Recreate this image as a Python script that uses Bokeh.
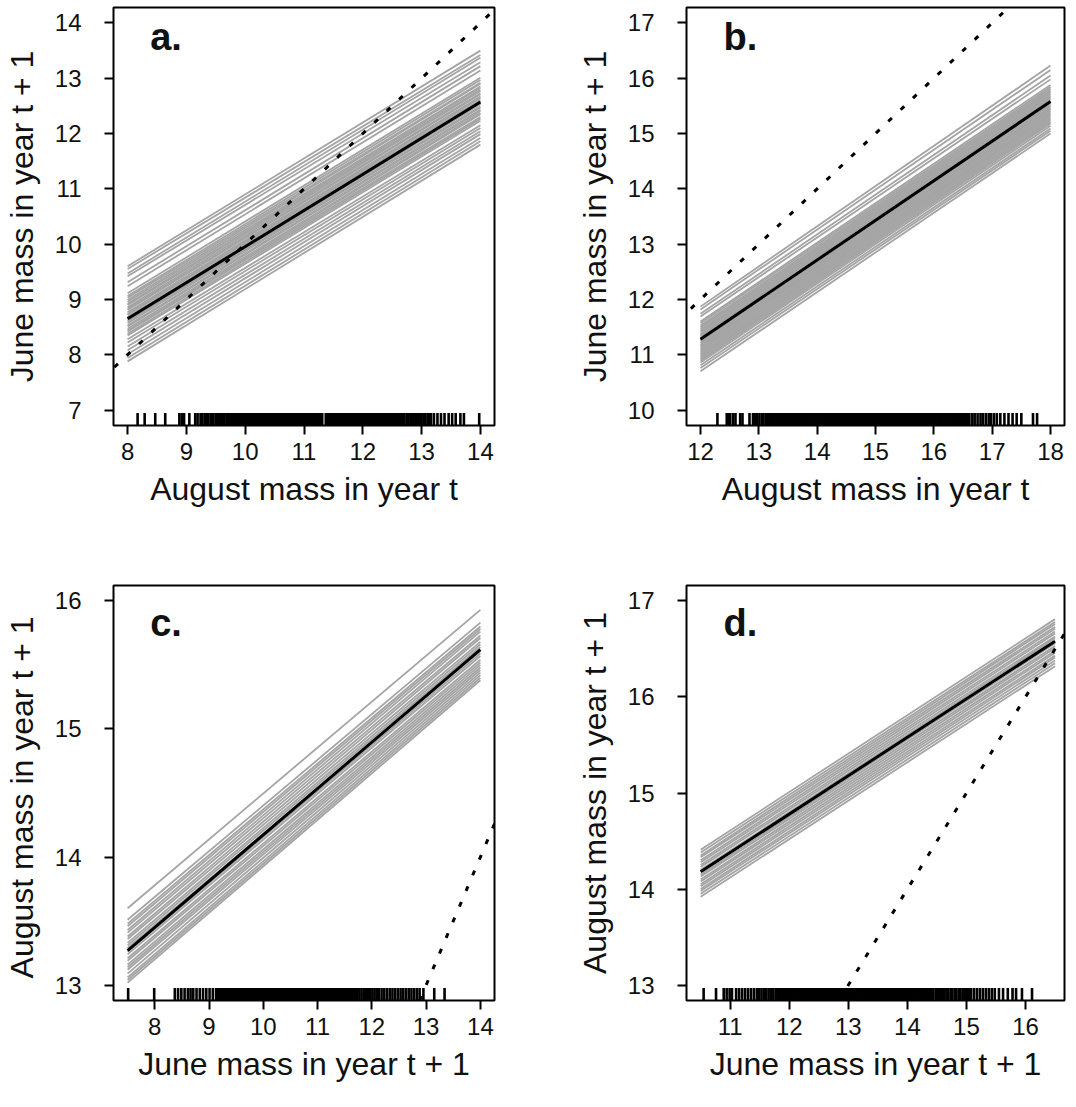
from bokeh.plotting import figure
from bokeh.models import Range1d, Slope, Label, FixedTicker
from bokeh.layouts import gridplot
from bokeh.embed import file_html
from bokeh.resources import INLINE

# ---------------- data ----------------
panel_letters = ["a.", "b.", "c.", "d."]
x_titles = ["August mass in year t", "August mass in year t",
            "June mass in year t + 1", "June mass in year t + 1"]
y_titles = ["June mass in year t + 1", "June mass in year t + 1",
            "August mass  in year t + 1", "August mass in year t + 1"]

x_ticks_a = [8, 9, 10, 11, 12, 13, 14]
y_ticks_a = [7, 8, 9, 10, 11, 12, 13, 14]
x_ticks_b = [12, 13, 14, 15, 16, 17, 18]
y_ticks_b = [10, 11, 12, 13, 14, 15, 16, 17]
x_ticks_c = [8, 9, 10, 11, 12, 13, 14]
y_ticks_c = [13, 14, 15, 16]
x_ticks_d = [11, 12, 13, 14, 15, 16]
y_ticks_d = [13, 14, 15, 16, 17]

# data extents (x and y) of each panel
x_extent_a = [8, 14];    y_extent_a = [7, 14]
x_extent_b = [12, 18];   y_extent_b = [10, 17]
x_extent_c = [7.5, 14];  y_extent_c = [13, 16]
x_extent_d = [10.5, 16.5]; y_extent_d = [13, 17]

# mean fitted line (value at left end, value at right end)
mean_a = [8.65, 12.57]
mean_b = [11.28, 15.58]
mean_c = [13.27, 15.62]
mean_d = [14.18, 16.58]

# posterior sample lines: value at left end / right end
gray_a_left = [9.60, 9.55, 9.47, 9.42, 9.31, 9.24, 9.11, 9.06, 9.03, 8.99, 8.96, 8.92,
               8.90, 8.86, 8.83, 8.81, 8.77, 8.74, 8.72, 8.68, 8.66, 8.62, 8.60, 8.57,
               8.53, 8.51, 8.47, 8.44, 8.42, 8.38, 8.35, 8.28, 8.22, 8.15, 8.08, 8.01,
               7.94, 7.88]
gray_a_right = [13.50, 13.42, 13.37, 13.29, 13.22, 13.14, 13.01, 12.97, 12.92, 12.90,
                12.85, 12.83, 12.79, 12.77, 12.73, 12.71, 12.67, 12.65, 12.61, 12.59,
                12.55, 12.53, 12.49, 12.47, 12.43, 12.41, 12.37, 12.35, 12.30, 12.27,
                12.23, 12.15, 12.10, 12.04, 11.99, 11.92, 11.86, 11.80]

gray_b_left = [11.87, 11.82, 11.74, 11.69, 11.60, 11.57, 11.53, 11.50, 11.47, 11.44,
               11.41, 11.38, 11.35, 11.33, 11.30, 11.27, 11.24, 11.21, 11.18, 11.16,
               11.13, 11.10, 11.07, 11.04, 11.01, 10.98, 10.95, 10.92, 10.89, 10.86,
               10.81, 10.76, 10.70]
gray_b_right = [16.23, 16.15, 16.05, 15.98, 15.88, 15.84, 15.81, 15.78, 15.75, 15.72,
                15.69, 15.66, 15.63, 15.60, 15.58, 15.55, 15.52, 15.49, 15.46, 15.44,
                15.41, 15.38, 15.35, 15.33, 15.30, 15.27, 15.24, 15.21, 15.18, 15.14,
                15.09, 15.05, 15.00]

gray_c_left = [13.60, 13.51, 13.48, 13.46, 13.43, 13.41, 13.38, 13.36, 13.33, 13.31,
               13.29, 13.26, 13.24, 13.21, 13.19, 13.16, 13.14, 13.12, 13.09, 13.06,
               13.04, 13.02]
gray_c_right = [15.93, 15.83, 15.80, 15.78, 15.76, 15.73, 15.71, 15.68, 15.66, 15.64,
                15.61, 15.59, 15.57, 15.54, 15.52, 15.50, 15.48, 15.46, 15.44, 15.42,
                15.40, 15.38]

gray_d_left = [14.41, 14.38, 14.35, 14.33, 14.30, 14.28, 14.25, 14.23, 14.20, 14.18,
               14.15, 14.13, 14.10, 14.08, 14.05, 14.03, 14.00, 13.98, 13.95, 13.92]
gray_d_right = [16.81, 16.78, 16.76, 16.73, 16.71, 16.68, 16.66, 16.63, 16.61, 16.58,
                16.56, 16.53, 16.51, 16.48, 16.46, 16.43, 16.41, 16.38, 16.35, 16.32]

# observed covariate values (rug)
rug_a = [8.17, 8.29, 8.47, 8.64, 8.88, 8.92, 8.96, 9.05, 9.15, 9.19, 9.24, 9.27,
         9.31, 9.34, 9.37, 9.41, 9.44, 9.46, 9.50, 9.53, 9.55, 9.59, 9.62, 9.64, 9.68, 9.71,
         9.74, 9.76, 9.79, 9.81, 9.84, 9.86, 9.89, 9.91, 9.94, 9.96, 9.99, 10.01, 10.03,
         10.06, 10.08, 10.11, 10.13, 10.16, 10.18, 10.21, 10.23, 10.26, 10.28, 10.31, 10.33,
         10.35, 10.37, 10.39, 10.42, 10.44, 10.46, 10.49, 10.51, 10.53, 10.56, 10.58, 10.60,
         10.63, 10.65, 10.67, 10.70, 10.72, 10.74, 10.77, 10.79, 10.81, 10.84, 10.86, 10.88,
         10.91, 10.93, 10.95, 10.98, 11.00, 11.02, 11.05, 11.07, 11.09, 11.12, 11.14, 11.16,
         11.19, 11.21, 11.23, 11.26, 11.28, 11.31,
         11.37, 11.39, 11.42, 11.44, 11.46, 11.49, 11.51, 11.53, 11.56, 11.58, 11.60, 11.63,
         11.65, 11.67, 11.70, 11.72, 11.74, 11.77, 11.79, 11.81, 11.84, 11.86, 11.88, 11.91,
         11.93, 11.95, 11.98, 12.00, 12.02, 12.05, 12.07, 12.09, 12.12, 12.14, 12.16, 12.19,
         12.21, 12.23, 12.26, 12.28, 12.30, 12.33, 12.35, 12.37, 12.40, 12.42, 12.44, 12.47,
         12.49, 12.51, 12.54, 12.56, 12.58, 12.61, 12.63, 12.65,
         12.68, 12.71, 12.75, 12.78, 12.82, 12.85, 12.89, 12.92, 12.96, 12.99, 13.03, 13.06,
         13.10, 13.13, 13.16,
         13.21, 13.27, 13.33, 13.39, 13.46, 13.52, 13.58, 13.66, 13.72, 13.98]

rug_b = [12.29, 12.45, 12.48, 12.51, 12.56, 12.60, 12.68, 12.72, 12.84, 12.90, 12.93, 12.97,
         13.01, 13.05, 13.08, 13.12,
         13.15, 13.18, 13.21, 13.24, 13.27, 13.30, 13.33, 13.36, 13.39, 13.42, 13.45, 13.48,
         13.51, 13.54, 13.57, 13.60, 13.63,
         13.66, 13.68, 13.71, 13.73, 13.75, 13.78, 13.80, 13.83, 13.85, 13.87, 13.90, 13.92,
         13.94, 13.97, 13.99, 14.02, 14.04, 14.06, 14.09, 14.11, 14.13, 14.16, 14.18, 14.21,
         14.23, 14.25, 14.28, 14.30, 14.32, 14.35, 14.37, 14.40, 14.42, 14.44, 14.47, 14.49,
         14.51, 14.54, 14.56, 14.59, 14.61, 14.63, 14.66, 14.68, 14.70, 14.73, 14.75, 14.78,
         14.80, 14.82, 14.85, 14.87, 14.89, 14.92, 14.94, 14.97, 14.99, 15.01, 15.04, 15.06,
         15.08, 15.11, 15.13, 15.16, 15.18, 15.20, 15.23, 15.25, 15.27, 15.30, 15.32, 15.35,
         15.37, 15.39, 15.42, 15.44, 15.46, 15.49, 15.51, 15.54, 15.56, 15.58, 15.61, 15.63,
         15.65, 15.68, 15.70, 15.73, 15.75, 15.77, 15.80, 15.82, 15.84, 15.87, 15.89, 15.92,
         15.94, 15.96, 15.99, 16.01, 16.03, 16.06, 16.08, 16.11, 16.13, 16.15, 16.18, 16.20,
         16.22, 16.25, 16.27, 16.30,
         16.33, 16.36, 16.39, 16.42, 16.45, 16.48, 16.52, 16.55, 16.58, 16.61,
         16.66, 16.70, 16.75, 16.80, 16.84, 16.89, 16.94, 16.98, 17.03, 17.08,
         17.14, 17.21, 17.28, 17.35, 17.42, 17.50, 17.70, 17.77]

rug_c = [7.51, 7.99, 8.37, 8.43, 8.49, 8.55, 8.61, 8.66, 8.71, 8.77, 8.83, 8.89, 8.95, 9.01,
         9.07, 9.13, 9.16, 9.19, 9.22, 9.25, 9.28, 9.31, 9.34, 9.37, 9.40, 9.43, 9.46, 9.49,
         9.52, 9.55, 9.58, 9.61, 9.64, 9.67, 9.70, 9.73, 9.76, 9.79, 9.82, 9.85, 9.88, 9.91,
         9.94, 9.97, 10.00, 10.03, 10.06, 10.09, 10.12, 10.15, 10.18, 10.21, 10.24, 10.27,
         10.30, 10.33, 10.36, 10.39, 10.42, 10.45, 10.48, 10.51, 10.54, 10.57, 10.60, 10.63,
         10.66, 10.69, 10.72, 10.75, 10.78, 10.81, 10.84, 10.87, 10.90, 10.93, 10.96, 10.99,
         11.02, 11.05, 11.08, 11.11, 11.14, 11.17, 11.20, 11.23, 11.26, 11.29, 11.32, 11.35,
         11.38, 11.41, 11.44, 11.47, 11.50, 11.53, 11.56, 11.59, 11.62, 11.65,
         11.69, 11.73, 11.77, 11.81, 11.85, 11.89, 11.93, 11.97, 12.01, 12.05, 12.09, 12.13,
         12.18, 12.23, 12.28, 12.33, 12.38, 12.43, 12.48, 12.53, 12.58, 12.63, 12.68, 12.73,
         12.78, 12.83, 12.88, 12.95, 13.15, 13.34]

rug_d = [10.55, 10.76, 10.89, 10.94, 10.99, 11.03, 11.10, 11.15, 11.20, 11.25, 11.30, 11.35,
         11.40, 11.45, 11.49, 11.53, 11.57, 11.61, 11.65, 11.69, 11.73, 11.77, 11.81,
         11.84, 11.87, 11.89, 11.92, 11.94, 11.97, 11.99, 12.02, 12.04, 12.07, 12.09, 12.12,
         12.14, 12.17, 12.19, 12.22, 12.24, 12.27, 12.29, 12.32, 12.34, 12.37, 12.39, 12.42,
         12.44, 12.47, 12.49, 12.52, 12.54, 12.57, 12.59, 12.62, 12.64, 12.67, 12.69, 12.72,
         12.74, 12.77, 12.79, 12.82, 12.84, 12.87, 12.89, 12.92, 12.94, 12.97, 12.99, 13.02,
         13.04, 13.07, 13.09, 13.12, 13.14, 13.17, 13.19, 13.22, 13.24, 13.27, 13.29, 13.32,
         13.34, 13.37, 13.39, 13.42, 13.44, 13.47, 13.49, 13.52, 13.54, 13.57, 13.59, 13.62,
         13.64, 13.67, 13.69, 13.72, 13.74, 13.77, 13.79, 13.82, 13.84, 13.87, 13.89, 13.92,
         13.94, 13.97, 13.99, 14.02, 14.04, 14.07, 14.09, 14.12, 14.14, 14.17, 14.19, 14.22,
         14.24, 14.27, 14.29, 14.32, 14.34, 14.37, 14.39, 14.42, 14.44,
         14.48, 14.52, 14.55, 14.59, 14.62, 14.66, 14.69, 14.73, 14.76, 14.80, 14.83, 14.87,
         14.90, 14.94, 14.97, 15.01, 15.04, 15.08,
         15.13, 15.18, 15.23, 15.28, 15.33, 15.38, 15.43, 15.48,
         15.55, 15.62, 15.70, 15.78, 15.84, 15.94, 16.11]

# ---------------- drawing ----------------
FONT = "Liberation Sans"


def padded(lo, hi, frac=0.04):
    d = (hi - lo) * frac
    return lo - d, hi + d


def panel(letter, xt, yt, x_ticks, y_ticks, x_ext, y_ext, x_rng, y_rng,
          mean, g_left, g_right, rug, width, height, bl, br, bt, bb, letter_dy):
    p = figure(width=width, height=height, output_backend="svg", toolbar_location=None,
               x_range=Range1d(*x_rng), y_range=Range1d(*y_rng),
               min_border_left=bl, min_border_right=br, min_border_top=bt,
               min_border_bottom=bb, background_fill_color="white",
               border_fill_color="white")
    p.grid.visible = False
    p.outline_line_color = "black"
    p.outline_line_width = 2
    p.xaxis.ticker = FixedTicker(ticks=x_ticks)
    p.yaxis.ticker = FixedTicker(ticks=y_ticks)
    for ax in (p.xaxis[0], p.yaxis[0]):
        ax.axis_line_color = None
        ax.major_tick_line_color = "black"
        ax.major_tick_line_width = 2
        ax.major_tick_out = 9
        ax.major_tick_in = 0
        ax.minor_tick_line_color = None
        ax.major_label_text_font = FONT
        ax.major_label_text_font_size = "24px"
        ax.major_label_text_color = "#111111"
        ax.axis_label_text_font = FONT
        ax.axis_label_text_font_size = "32px"
        ax.axis_label_text_font_style = "normal"
        ax.axis_label_text_color = "#111111"
    p.xaxis.axis_label = xt
    p.yaxis.axis_label = yt
    p.xaxis.major_label_standoff = 8
    p.xaxis.axis_label_standoff = 8
    p.yaxis.major_label_standoff = 23
    p.yaxis.axis_label_standoff = 12

    # posterior sample lines
    xs = [list(x_ext) for _ in g_left]
    ys = [[a, b] for a, b in zip(g_left, g_right)]
    p.multi_line(xs, ys, line_color="#a4a4a4", line_width=1.8)
    # mean line
    p.line(list(x_ext), mean, line_color="black", line_width=3)
    # 1:1 line
    p.add_layout(Slope(gradient=1, y_intercept=0, line_color="black",
                       line_width=3, line_dash="5 12"))
    # rug (screen-width bars so the dense parts fill solid)
    y0 = y_rng[0]
    h = 0.03 * (y_rng[1] - y_rng[0])
    p.rect(x=rug, y=[y0 + h / 2] * len(rug), width=2.6, width_units="screen",
           height=h, fill_color="black", fill_alpha=1.0, line_color=None)

    # panel letter
    fw = width - bl - br
    fh = height - bt - bb
    lx = x_rng[0] + 37.0 / fw * (x_rng[1] - x_rng[0])
    ly = y_rng[1] - letter_dy / fh * (y_rng[1] - y_rng[0])
    p.add_layout(Label(x=lx, y=ly, text=letter, text_font=FONT, text_font_size="38px",
                       text_font_style="bold", text_color="#111111",
                       text_baseline="alphabetic", text_align="left"))
    return p


pa = panel(panel_letters[0], x_titles[0], y_titles[0], x_ticks_a, y_ticks_a,
           x_extent_a, y_extent_a, padded(*x_extent_a), padded(*y_extent_a),
           mean_a, gray_a_left, gray_a_right, rug_a, 538, 560, 110, 44, 7, 135, 29)
pb = panel(panel_letters[1], x_titles[1], y_titles[1], x_ticks_b, y_ticks_b,
           x_extent_b, y_extent_b, padded(*x_extent_b), padded(*y_extent_b),
           mean_b, gray_b_left, gray_b_right, rug_b, 538, 560, 148, 12, 7, 135, 29)
pc = panel(panel_letters[2], x_titles[2], y_titles[2], x_ticks_c, y_ticks_c,
           x_extent_c, y_extent_c, padded(*x_extent_c), padded(*y_extent_c),
           mean_c, gray_c_left, gray_c_right, rug_c, 538, 547, 110, 44, 25, 107, 37)
pd = panel(panel_letters[3], x_titles[3], y_titles[3], x_ticks_d, y_ticks_d,
           x_extent_d, y_extent_d, (10.26, 16.66), padded(*y_extent_d),
           mean_d, gray_d_left, gray_d_right, rug_d, 538, 547, 148, 12, 25, 107, 37)

grid = gridplot([[pa, pb], [pc, pd]], toolbar_location=None)

open("out.html", "w").write(file_html(grid, INLINE))
